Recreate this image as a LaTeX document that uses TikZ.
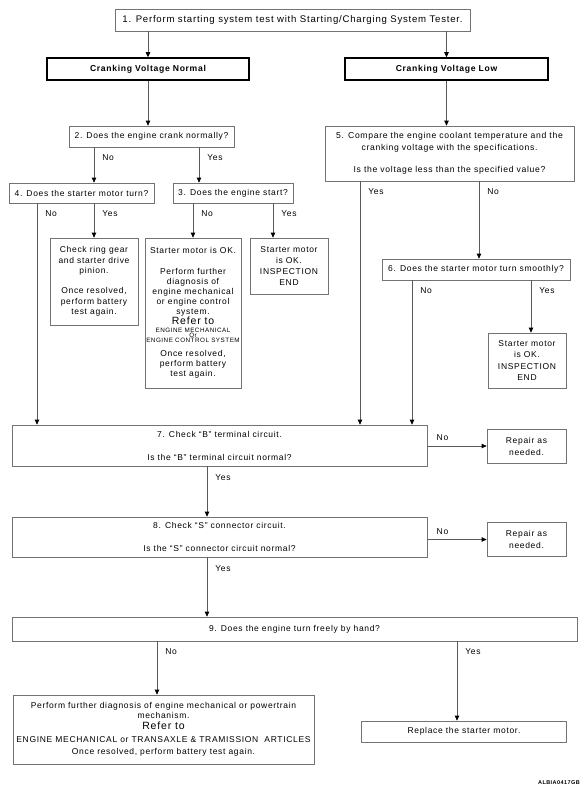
\documentclass[tikz,border=0pt]{standalone}
\usepackage{fontspec}
\setmainfont{Liberation Sans}[LetterSpace=8]
\usetikzlibrary{arrows.meta}
\setlength{\lineskiplimit}{-100pt}

\begin{document}
\begin{tikzpicture}[
    x=1pt, y=-1pt,
    >={Triangle[width=4.5pt,length=5pt,color=black]},
    box/.style={rectangle, draw=black!55, line width=0.7pt, inner sep=0pt,
                align=center, font=\fontsize{8.5}{11}\selectfont},
    headbox/.style={box, draw=black, line width=1.5pt,
                    font=\fontsize{8.6}{11}\selectfont\bfseries},
    flow/.style={->, draw=black!65, line width=0.7pt},
    answer/.style={anchor=west, inner sep=0pt, xshift=8pt, yshift=-10pt,
                   font=\fontsize{8.5}{11}\selectfont},
    sideanswer/.style={anchor=south west, inner sep=0pt, xshift=9pt, yshift=5pt,
                       font=\fontsize{8.5}{11}\selectfont}
]
\useasboundingbox (0,0) rectangle (586,792);
\node[box, font=\fontsize{9.6}{11}\selectfont, minimum width=355pt, minimum height=22pt] (test) at (292.5,20)
    {1. Perform starting system test with Starting/Charging System Tester.};
\node[headbox, minimum width=202pt, minimum height=22pt] (normal) at (148,69) {Cranking Voltage Normal};
\node[headbox, minimum width=203pt, minimum height=22pt] (low) at (446.5,69) {Cranking Voltage Low};
\node[box, minimum width=165pt, minimum height=21pt] (crank) at (151.5,136.5) {2. Does the engine crank normally?};
\node[box, font=\fontsize{8.6}{12}\selectfont, minimum width=249pt, minimum height=55pt] (coolant) at (449.5,153.5)
    {5. Compare the engine coolant temperature and the\\cranking voltage with the specifications.\\[10pt]Is the voltage less than the specified value?};
\node[box, minimum width=145pt, minimum height=20pt] (turn) at (81.5,193) {4. Does the starter motor turn?};
\node[box, minimum width=120pt, minimum height=20pt] (start) at (233,193) {3. Does the engine start?};
\node[box, font=\fontsize{8.5}{10.4}\selectfont, minimum width=88pt, minimum height=87pt] (ring) at (94,281.5)
    {Check ring gear\\and starter drive\\pinion.\\[10pt]Once resolved,\\perform battery\\test again.};
\node[box, font=\fontsize{8.5}{10}\selectfont, minimum width=96pt, minimum height=150pt] (okstart) at (193,313)
    {Starter motor is OK.\\[11pt]Perform further\\diagnosis of\\engine mechanical\\or engine control\\system.\\[-0.5pt]
     {\fontsize{10.5}{10}\selectfont Refer to}\\[-2pt]
     {\fontsize{6.3}{6}\selectfont ENGINE MECHANICAL}\\[-5pt]{\fontsize{6.3}{6}\selectfont Or}\\[-5pt]
     {\fontsize{6.3}{6}\selectfont ENGINE CONTROL SYSTEM}\\[4pt]Once resolved,\\perform battery\\test again.};
\node[box, font=\fontsize{8.5}{10.7}\selectfont, minimum width=78pt, minimum height=56pt] (okend) at (289,266)
    {Starter motor\\is OK.\\INSPECTION\\END};
\node[box, minimum width=188pt, minimum height=21pt] (smooth) at (476,269.5) {6. Does the starter motor turn smoothly?};
\node[box, font=\fontsize{8.5}{11.3}\selectfont, minimum width=78pt, minimum height=55pt] (okmotor) at (527,360.5)
    {Starter motor\\is OK.\\INSPECTION\\END};
\node[box, minimum width=415pt, minimum height=41pt] (bterm) at (219.5,445.5)
    {7. Check “B” terminal circuit.\\[12pt]Is the “B” terminal circuit normal?};
\node[box, font=\fontsize{8.5}{12}\selectfont, minimum width=79pt, minimum height=34pt] (repairb) at (526.5,446)
    {Repair as\\needed.};
\node[box, minimum width=415pt, minimum height=40pt] (sconn) at (219.5,537)
    {8. Check “S” connector circuit.\\[12pt]Is the “S” connector circuit normal?};
\node[box, font=\fontsize{8.5}{12}\selectfont, minimum width=79pt, minimum height=34pt] (repairs) at (526.5,539.5)
    {Repair as\\needed.};
\node[box, minimum width=565pt, minimum height=24pt] (byhand) at (294.5,629) {9. Does the engine turn freely by hand?};
\node[box, minimum width=301pt, minimum height=69pt] (further) at (163.5,729.5)
    {Perform further diagnosis of engine mechanical or powertrain\\[-1pt]mechanism.\\
     {\fontsize{10.5}{10}\selectfont Refer to}\\[2pt]
     ENGINE MECHANICAL or TRANSAXLE \& TRAMISSION\ \ ARTICLES\\[1pt]Once resolved, perform battery test again.};
\node[box, minimum width=205pt, minimum height=21pt] (replace) at (464,731.5) {Replace the starter motor.};
\node[font=\fontsize{5.5}{6}\selectfont\bfseries, anchor=east, inner sep=0pt] (code) at (580,783) {ALBIA0417GB};
\draw[flow] (test.south -| normal) -- (normal);
\draw[flow] (test.south -| low) -- (low);
\draw[flow] (normal) -- (normal |- crank.north);
\draw[flow] (low) -- (low |- coolant.north);
\draw[flow] (crank.south -| 94,0) -- node[answer, at start]{No} (turn.north -| 94,0);
\draw[flow] (crank.south -| 199,0) -- node[answer, at start]{Yes} (start.north -| 199,0);
\draw[flow] (turn.south -| 37,0) -- node[answer, at start]{No} (bterm.north -| 37,0);
\draw[flow] (turn.south -| ring) -- node[answer, at start]{Yes} (ring);
\draw[flow] (start.south -| okstart) -- node[answer, at start]{No} (okstart);
\draw[flow] (start.south -| 273,0) -- node[answer, at start]{Yes} (okend.north -| 273,0);
\draw[flow] (coolant.south -| 360,0) -- node[answer, at start]{Yes} (bterm.north -| 360,0);
\draw[flow] (coolant.south -| 479,0) -- node[answer, at start]{No} (smooth.north -| 479,0);
\draw[flow] (smooth.south -| 412,0) -- node[answer, at start]{No} (bterm.north -| 412,0);
\draw[flow] (smooth.south -| 531,0) -- node[answer, at start]{Yes} (okmotor.north -| 531,0);
\draw[flow] (bterm.east |- repairb) -- node[sideanswer, at start]{No} (repairb);
\draw[flow] (bterm.south -| 207,0) -- node[answer, at start, yshift=-1pt]{Yes} (sconn.north -| 207,0);
\draw[flow] (sconn.east |- repairs) -- node[sideanswer, at start]{No} (repairs);
\draw[flow] (sconn.south -| 207,0) -- node[answer, at start, yshift=-1pt]{Yes} (byhand.north -| 207,0);
\draw[flow] (byhand.south -| 157,0) -- node[answer, at start]{No} (further.north -| 157,0);
\draw[flow] (byhand.south -| 457,0) -- node[answer, at start]{Yes} (replace.north -| 457,0);
\end{tikzpicture}
\end{document}
